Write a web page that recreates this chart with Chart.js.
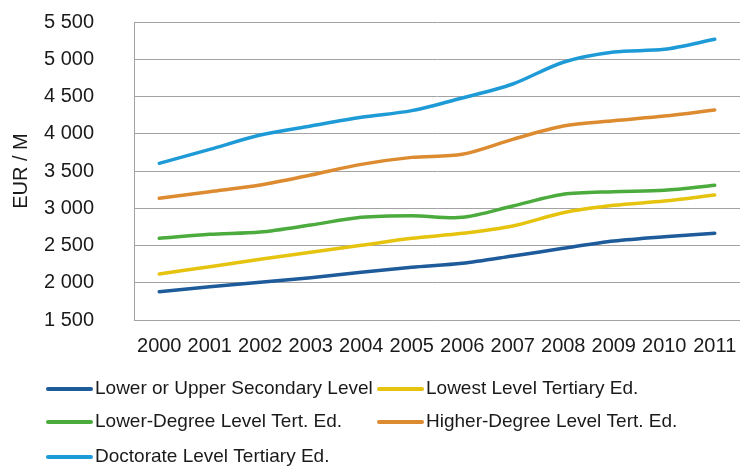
<!DOCTYPE html>
<html>
<head>
<meta charset="utf-8">
<script src="https://cdn.jsdelivr.net/npm/chart.js@4.4.0/dist/chart.umd.min.js"></script>
<style>
  html, body { margin: 0; padding: 0; background: #ffffff; }
  #wrap { position: relative; width: 740px; height: 466px; }
</style>
</head>
<body>
<div id="wrap"><canvas id="c" width="740" height="466"></canvas></div>
<script>
const years = ['2000','2001','2002','2003','2004','2005','2006','2007','2008','2009','2010','2011'];
const lowerUpperSecondary = [1880,1947,2006,2068,2140,2207,2261,2359,2462,2560,2618,2663];
const lowestTertiary      = [2117,2216,2315,2409,2503,2596,2663,2762,2940,3039,3097,3178];
const lowerDegree         = [2596,2650,2681,2775,2878,2900,2878,3030,3187,3222,3241,3308];
const higherDegree        = [3133,3222,3312,3446,3589,3683,3724,3925,4104,4175,4238,4319];
const doctorate           = [3603,3790,3983,4104,4221,4310,4480,4668,4960,5097,5133,5268];
const seriesNames = ['Lower or Upper Secondary Level','Lowest Level Tertiary Ed.','Lower-Degree Level Tert. Ed.','Higher-Degree Level Tert. Ed.','Doctorate Level Tertiary Ed.'];
const seriesColors = ['#1d5b9b','#e5c30f','#4bab3d','#dd8b30','#1e9bd7'];
const yAxisTitle = 'EUR / M';
const yMin = 1500, yMax = 5500, yStep = 500;

const seriesData = [lowerUpperSecondary, lowestTertiary, lowerDegree, higherDegree, doctorate];

const FONT = '"Liberation Sans", Arial, sans-serif';
const TEXT = '#1a1a1a';

const gridLegend = {
  id: 'gridLegend',
  afterDraw(chart) {
    const ctx = chart.ctx;
    const colX = [47, 378];
    const rowY = [389, 422, 457];
    const lineLen = 45;
    ctx.save();
    ctx.font = '19px ' + FONT;
    ctx.textBaseline = 'middle';
    ctx.textAlign = 'left';
    chart.data.datasets.forEach((ds, i) => {
      const x = colX[i % 2];
      const y = rowY[Math.floor(i / 2)];
      ctx.strokeStyle = ds.borderColor;
      ctx.lineWidth = 4;
      ctx.lineCap = 'round';
      ctx.beginPath();
      ctx.moveTo(x + 1, y);
      ctx.lineTo(x + lineLen - 1, y);
      ctx.stroke();
      ctx.fillStyle = TEXT;
      ctx.fillText(ds.label, x + lineLen + 3, y);
    });
    ctx.restore();
  }
};

new Chart(document.getElementById('c'), {
  type: 'line',
  data: {
    labels: years,
    datasets: seriesNames.map((n, i) => ({
      label: n,
      data: seriesData[i],
      borderColor: seriesColors[i],
      backgroundColor: seriesColors[i],
      borderWidth: 3.5,
      pointRadius: 0,
      tension: 0.3,
      borderCapStyle: 'round',
      fill: false
    }))
  },
  options: {
    responsive: false,
    animation: false,
    layout: { padding: { top: 22, right: -3, bottom: 108, left: 0 } },
    plugins: {
      legend: { display: false },
      tooltip: { enabled: false }
    },
    scales: {
      x: {
        offset: true,
        afterFit(scale) { scale.height = 38; scale.paddingLeft = 0; scale.paddingRight = -3; },
        grid: { display: false, drawTicks: false },
        border: { display: true, color: '#a3a3a3', width: 1 },
        ticks: { color: TEXT, font: { family: FONT, size: 20 }, padding: 14, maxRotation: 0, autoSkip: false }
      },
      y: {
        min: yMin, max: yMax,
        afterFit(scale) { scale.width = 134; scale.paddingTop = 0; scale.paddingBottom = 0; },
        grid: { color: '#a3a3a3', lineWidth: 1, drawTicks: false },
        border: { display: true, color: '#a3a3a3', width: 1 },
        title: { display: true, text: yAxisTitle, color: TEXT, font: { family: FONT, size: 20 }, padding: { top: 9, bottom: 0 } },
        ticks: {
          stepSize: yStep, color: TEXT, font: { family: FONT, size: 20 }, padding: 40,
          callback: v => String(v).replace(/\B(?=(\d{3})+(?!\d))/g, ' ')
        }
      }
    }
  },
  plugins: [gridLegend]
});
</script>
</body>
</html>
